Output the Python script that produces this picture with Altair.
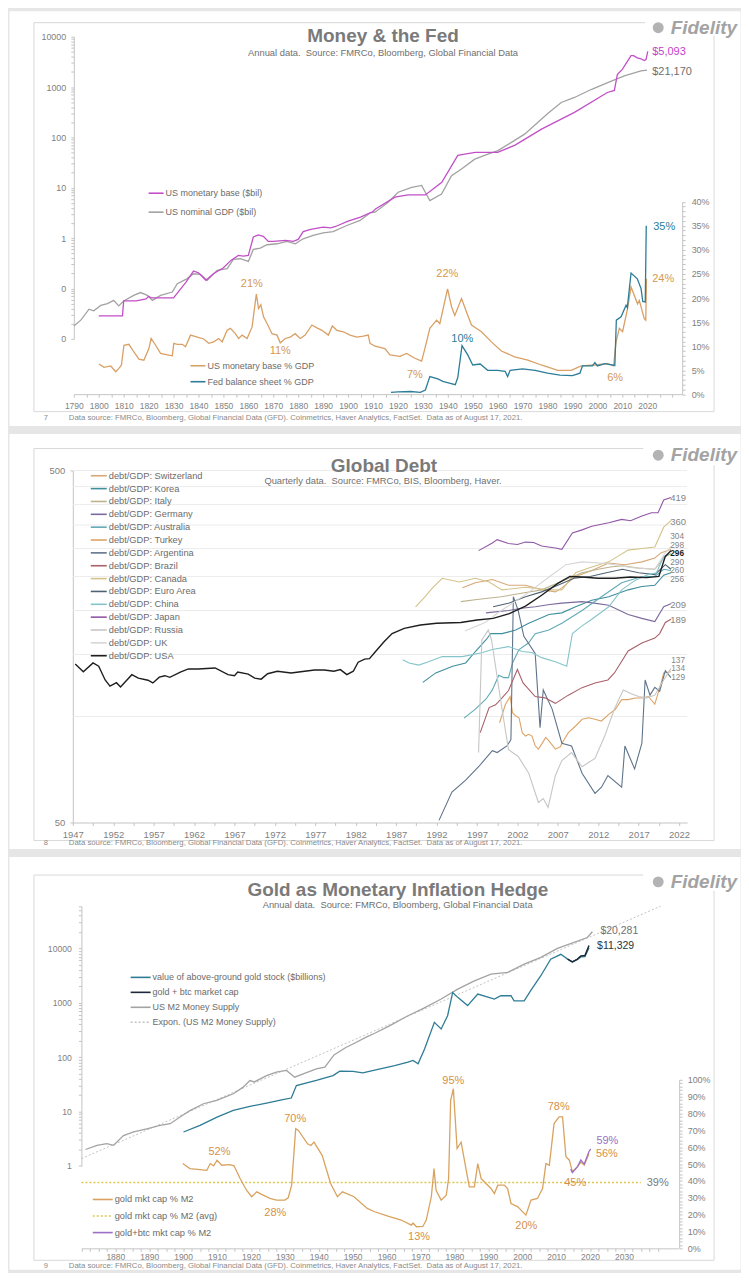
import altair as alt
import pandas as pd

FONT = "Liberation Sans"
W = 733
H1, H2, H3 = 416, 416, 414
TXT = "#7f7f7f"
AXL = "#c4c4c4"
FRM = "#d9d9d9"
ONE = pd.DataFrame({"k": [0]})

# ---------------- Panel 1 data : Money & the Fed ----------------
MB = [(1800, 0.0285), (1809.5, 0.0285), (1810, 0.0565), (1815, 0.0565), (1819, 0.062), (1820, 0.070),
      (1821, 0.065), (1825, 0.065), (1830, 0.065), (1835, 0.134), (1838, 0.222), (1840, 0.204),
      (1843, 0.145), (1846, 0.196), (1850, 0.258), (1853, 0.361), (1856, 0.454), (1858, 0.44),
      (1860, 0.454), (1862, 1.05), (1864, 1.16), (1866, 1.08), (1868, 0.86), (1870, 0.86), (1875, 0.9),
      (1878, 0.86), (1880, 0.94), (1882, 1.35), (1885, 1.49), (1890, 1.65), (1893, 1.6), (1895, 1.7),
      (1900, 2.17), (1905, 2.6), (1910, 3.37), (1911, 3.8), (1918.8, 6.5), (1924, 7.2), (1931, 7.2),
      (1937.6, 12.8), (1944, 44), (1946.8, 46.7), (1951, 50.5), (1960, 50.5), (1966.8, 69.5),
      (1977.6, 146), (1990.8, 313), (2004, 778), (2006.8, 853), (2008, 1770), (2010, 2240),
      (2013.5, 4200), (2014.5, 4200), (2016, 3800), (2017.5, 3640), (2018.8, 3350), (2019.5, 3500),
      (2020.2, 5093)]
GDP = [(1790, 0.018), (1792.8, 0.0235), (1796.1, 0.0387), (1798, 0.036), (1800.8, 0.046), (1803.5, 0.05),
       (1806, 0.058), (1808, 0.045), (1810, 0.0565), (1814, 0.073), (1816.8, 0.083), (1819.5, 0.073),
       (1821.5, 0.058), (1824.8, 0.073), (1829.5, 0.085), (1831.5, 0.124), (1835.5, 0.157), (1838, 0.196),
       (1840.8, 0.19), (1843.5, 0.145), (1847.5, 0.229), (1851.5, 0.247), (1854, 0.378), (1856.8, 0.389),
       (1860, 0.345), (1862, 0.597), (1864.8, 0.634), (1867.5, 0.738), (1871.5, 0.772), (1875.5, 0.86),
       (1878.8, 0.772), (1882, 0.97), (1886, 1.13), (1890, 1.27), (1894, 1.35), (1899.5, 1.78),
       (1904.8, 2.24), (1908.8, 3.17), (1910.8, 3.27), (1916.1, 5.16), (1920.1, 8.15), (1925.5, 10.2),
       (1929.5, 11.1), (1932.8, 5.57), (1937.5, 7.5), (1941.5, 17.4), (1945.5, 23.5), (1950.8, 37),
       (1956.1, 46.7), (1960.1, 54.5), (1966.8, 87), (1970.8, 116), (1980.1, 299), (1985.5, 493),
       (1990.8, 620), (1997.5, 891), (2004.1, 1227), (2010.8, 1660), (2017.5, 2090), (2019.9, 2170)]
MBP = [(1800.1, 6.3), (1802.1, 5.6), (1804.8, 5.9), (1806.8, 4.7), (1808.1, 5.4), (1809.1, 6.1), (1810.1, 10.2),
       (1812.1, 10.4), (1814.1, 8.8), (1816.1, 7.3), (1818.1, 7.1), (1820.1, 9.5), (1821.0, 11.6), (1822.8, 10.2),
       (1824.8, 8.5), (1827.5, 8.2), (1829.5, 8.0), (1830.1, 10.6), (1831.5, 10.4), (1833.5, 10.4), (1834.8, 9.9),
       (1836.8, 12.3), (1839.5, 11.9), (1842.1, 11.5), (1844.1, 10.6), (1846.1, 10.9), (1848.1, 11.6),
       (1849.5, 10.9), (1851.5, 13.3), (1852.8, 13.7), (1854.8, 12.6), (1856.1, 11.6), (1857.5, 12.3),
       (1859.5, 11.6), (1861.5, 14.0), (1863.2, 20.8), (1864.1, 17.8), (1865.0, 18.6), (1866.1, 16.1),
       (1867.5, 14.7), (1869.5, 12.6), (1871.5, 12.3), (1872.8, 10.7), (1874.8, 11.6), (1876.8, 11.9),
       (1878.8, 12.6), (1880.8, 11.6), (1882.8, 12.3), (1885.5, 14.4), (1887.5, 13.8), (1889.5, 13.3),
       (1892.1, 12.3), (1893.7, 14.2), (1895.5, 13.3), (1898.1, 13.0), (1900.8, 12.3), (1903.5, 11.9),
       (1906.1, 12.1), (1908.1, 12.3), (1908.8, 10.6), (1910.8, 10.0), (1914.8, 9.5), (1916.8, 8.2),
       (1920.8, 7.9), (1923.5, 8.5), (1926.8, 7.5), (1929.5, 6.9), (1930.8, 9.5), (1932.8, 13.7),
       (1935.5, 15.4), (1936.8, 14.7), (1939.9, 21.9), (1941.5, 18.2), (1942.8, 16.4), (1945.5, 19.9),
       (1947.5, 17.1), (1949.5, 14.4), (1953.5, 13.0), (1957.5, 10.9), (1961.5, 9.0), (1966.8, 7.8),
       (1972.1, 7.1), (1977.5, 6.1), (1984.1, 5.0), (1989.5, 5.0), (1993.5, 5.9), (1998.8, 6.1),
       (2004.1, 6.4), (2006.5, 5.9), (2007.5, 10.9), (2008.8, 13.7), (2010.1, 13.0), (2012.1, 17.8),
       (2013.5, 22.3), (2016.1, 18.8), (2016.8, 19.5), (2018.8, 15.7), (2019.4, 15.4), (2019.7, 24.0)]
FED = [(1917.2, 0.4), (1920, 0.5), (1925, 0.6), (1929, 0.4), (1931, 0.9), (1932.8, 3.7), (1936, 3.2),
       (1938, 2.7), (1941, 2.3), (1943, 2.0), (1944, 3.5), (1945.7, 10.1), (1948, 8.2), (1950, 6.1),
       (1953, 6.3), (1956, 5.0), (1960, 5.0), (1963, 4.8), (1964, 3.7), (1965, 5.0), (1970, 5.3),
       (1975, 5.0), (1980, 4.4), (1985, 4.0), (1990, 3.9), (1993, 4.4), (1994, 5.9), (1998, 5.9),
       (1999, 6.6), (2000, 5.9), (2003, 6.4), (2007, 6.0), (2007.6, 15.4), (2009.5, 16.1), (2011.5, 18.5),
       (2012, 18.0), (2013.5, 25.2), (2016, 24.0), (2017.5, 22.0), (2018.2, 19.3), (2019.2, 19.2),
       (2019.6, 35.0)]

# ---------------- Panel 2 data : Global Debt ----------------
DEBT_NAMES = ["Switzerland", "Korea", "Italy", "Germany", "Australia", "Turkey", "Argentina", "Brazil",
              "Canada", "Euro Area", "China", "Japan", "Russia", "UK", "USA"]
DEBT_COLORS = ["#d8a878", "#3e8e9d", "#bcb38e", "#7b6a9b", "#62a9b6", "#dda466", "#5f748a", "#a9616b",
               "#d3c38a", "#4f6272", "#86c4cb", "#9057a6", "#c6c6c6", "#d6d6d6", "#1e1e1e"]
DEBT = {
    "Switzerland": [(1995.2, 232), (1996.8, 240), (1998.9, 245), (2000.9, 236), (2003.0, 236), (2005.1, 229),
                    (2006.7, 226), (2007.5, 232), (2009.2, 250), (2011.2, 260), (2013.3, 273), (2015.3, 270),
                    (2017.4, 275), (2019.0, 282), (2019.8, 292), (2021.0, 298)],
    "Korea": [(1990.3, 125), (1991.9, 133), (1994.0, 139), (1995.6, 142), (1996.8, 153), (1998.1, 165),
              (1998.7, 172), (2000.1, 172), (2001.8, 176), (2003.4, 184), (2005.9, 195), (2007.5, 197),
              (2009.2, 205), (2011.2, 214), (2013.3, 219), (2015.7, 229), (2017.4, 234), (2019.0, 236),
              (2020.1, 252), (2021.0, 256)],
    "Italy": [(1995.0, 212), (1997.0, 215), (2000.0, 219), (2002.5, 224), (2005.0, 229), (2008.0, 245),
              (2010.0, 256), (2012.0, 262), (2013.5, 266), (2015.0, 268), (2017.0, 264), (2019.0, 262),
              (2020.3, 285), (2021.0, 290)],
    "Germany": [(1998.1, 197), (2000.9, 200), (2002.5, 203), (2004.2, 205), (2006.0, 208), (2007.5, 210),
                (2010.0, 212), (2011.5, 210), (2013.3, 207), (2015.7, 195), (2017.4, 190), (2019.0, 186),
                (2020.1, 205), (2021.0, 209)],
    "Australia": [(1995.4, 99), (1996.8, 105), (1998.1, 112), (1998.9, 119), (1999.7, 131), (2000.3, 129),
                  (2000.9, 129), (2001.4, 142), (2002.2, 155), (2003.4, 162), (2004.2, 172), (2005.9, 176),
                  (2007.5, 184), (2010.0, 200), (2012.4, 219), (2014.9, 240), (2017.4, 250), (2019.0, 250),
                  (2020.1, 262), (2021.0, 260)],
    "Turkey": [(1999.8, 96), (2000.5, 108), (2001.1, 114), (2001.4, 102.5), (2001.8, 100.3), (2002.2, 99.2),
               (2002.6, 90), (2003.0, 88), (2003.4, 89), (2003.8, 88), (2004.2, 82.6), (2004.6, 80.8),
               (2005.0, 83.5), (2005.5, 87.2), (2005.9, 85.3), (2006.7, 80.8), (2007.3, 82), (2007.7, 85.3),
               (2008.3, 90), (2009.2, 94), (2010.0, 98.2), (2010.8, 99.2), (2011.6, 98.2), (2012.4, 97.1),
               (2013.3, 101.4), (2014.1, 104.7), (2014.9, 111.7), (2015.7, 111.7), (2016.6, 112.9),
               (2017.4, 112.9), (2018.2, 114), (2019.0, 108.4), (2019.4, 116.4), (2019.8, 125), (2020.1, 133),
               (2021.0, 134)],
    "Argentina": [(1992.3, 50.7), (1993.9, 61), (1995.6, 66), (1997.2, 72), (1998.9, 80), (1999.5, 79),
                  (2000.7, 82.5), (2001.2, 86), (2001.5, 219), (2002.1, 200), (2002.8, 169), (2004.2, 151),
                  (2004.8, 93), (2005.2, 119), (2006.3, 105), (2007.5, 84), (2008.7, 82.5), (2010.0, 69),
                  (2011.6, 60.5), (2012.4, 63), (2013.2, 68), (2014.9, 63), (2015.3, 82.5), (2016.5, 71),
                  (2017.4, 84), (2017.8, 127), (2018.4, 115), (2019.0, 121), (2019.6, 118), (2020.3, 135),
                  (2021.0, 129)],
    "Brazil": [(1997.4, 90), (1998.5, 106), (1999.3, 108), (2000.1, 113), (2000.9, 118.5), (2002.0, 136),
               (2002.7, 124.6), (2004.2, 114), (2005.4, 113), (2006.7, 109), (2008.3, 115), (2010.0, 120.8),
               (2011.6, 124.6), (2013.2, 127), (2014.0, 133), (2015.7, 153.5), (2017.4, 161.7), (2019.0, 167),
               (2019.6, 172), (2020.3, 185), (2021.0, 189)],
    "Canada": [(1989.4, 205), (1990.5, 218), (1991.5, 232), (1992.7, 247), (1994.8, 241), (1996.8, 247),
               (1998.5, 241), (2000.1, 229), (2003.0, 233), (2005.9, 229), (2007.5, 229), (2009.2, 256),
               (2011.0, 265), (2013.3, 275), (2015.7, 297), (2017.4, 300), (2019.0, 303), (2020.1, 345),
               (2021.0, 360)],
    "Euro Area": [(1999.0, 205), (2001.0, 210), (2003.0, 219), (2005.0, 226), (2007.0, 236), (2009.0, 247),
                  (2011.0, 250), (2013.0, 256), (2015.0, 262), (2017.0, 256), (2019.0, 253), (2020.3, 270),
                  (2021.0, 262)],
    "China": [(1987.8, 145), (1988.6, 142), (1989.8, 140), (1991.0, 143), (1992.7, 148), (1995.2, 148),
              (1997.7, 152), (1998.9, 155), (2000.9, 158), (2002.6, 153), (2003.8, 152), (2005.0, 147),
              (2006.7, 143), (2008.1, 139), (2008.8, 172), (2010.0, 181), (2011.2, 189), (2013.3, 205),
              (2014.9, 229), (2016.6, 244), (2018.2, 253), (2019.2, 256), (2020.1, 285), (2021.0, 290)],
    "Japan": [(1997.2, 296), (1998.9, 311), (1999.5, 318), (2000.9, 310), (2002.0, 308), (2003.0, 313),
              (2004.0, 312), (2005.0, 305), (2006.7, 301), (2007.5, 298.5), (2008.8, 332), (2010.0, 339),
              (2011.2, 347), (2013.3, 355), (2014.9, 363), (2016.0, 360), (2017.4, 371), (2018.6, 379),
              (2019.4, 379), (2020.1, 412), (2021.0, 419)],
    "Russia": [(1997.2, 79), (1997.6, 165), (1998.4, 176), (1998.8, 165), (2000.1, 105), (2000.9, 80.5),
               (2002.1, 77), (2003.4, 69), (2004.6, 57), (2005.2, 58.5), (2005.8, 55.2), (2006.7, 68),
               (2007.5, 75), (2008.7, 79), (2010.0, 72), (2010.8, 74), (2011.6, 76), (2012.8, 88),
               (2014.0, 105), (2015.1, 119), (2016.1, 116), (2017.0, 114), (2018.0, 113), (2019.0, 115),
               (2020.1, 127), (2021.0, 137)],
    "UK": [(1995.5, 175), (1998.0, 185), (2000.0, 200), (2003.0, 222), (2006.0, 250), (2008.0, 270),
           (2010.0, 275), (2013.0, 272), (2016.0, 265), (2019.0, 262), (2020.2, 290), (2021.0, 304)],
    "USA": [(1947.3, 141), (1948.3, 134), (1949.5, 142), (1950.2, 139), (1951.0, 127), (1951.6, 122),
            (1952.4, 124.8), (1952.9, 121.3), (1954.3, 131.5), (1955.1, 128.6), (1956.3, 126.8), (1956.9, 124.6),
            (1957.7, 129.4), (1958.4, 130.6), (1959.0, 129.2), (1960.3, 133.7), (1961.3, 136.5), (1962.5, 136.5),
            (1964.6, 137.4), (1966.2, 131.5), (1967.0, 130.6), (1967.4, 133.7), (1968.7, 132), (1969.5, 128.6),
            (1970.3, 127.7), (1971.1, 132.3), (1972.3, 134.5), (1974.0, 132.9), (1975.2, 134), (1976.9, 135.6),
            (1978.1, 135.6), (1979.3, 134.5), (1980.1, 135.9), (1980.9, 131.5), (1981.7, 134.5), (1982.3, 142.7),
            (1983.1, 145.6), (1983.7, 146), (1984.4, 152.5), (1985.5, 163), (1986.5, 172), (1988.0, 178),
            (1990.0, 182), (1992.0, 184), (1995.0, 185), (1997.0, 188), (1999.0, 190), (2001.0, 196),
            (2003.0, 206), (2005.0, 221), (2007.0, 239), (2008.5, 250), (2010.0, 249), (2012.0, 247),
            (2014.0, 247), (2016.0, 249), (2018.0, 248), (2019.5, 250), (2020.3, 285), (2021.0, 296)],
}
GRID2 = [100, 150, 200, 250, 300, 350, 400, 450, 500]

# ---------------- Panel 3 data : Gold as Monetary Inflation Hedge ----------------
M2 = [(1871.2, 2.0), (1874.6, 2.39), (1877.5, 2.56), (1879.5, 2.39), (1882.4, 3.6), (1885.4, 4.2), (1889.3, 4.8),
      (1893.2, 5.55), (1896.2, 5.97), (1899.1, 7.9), (1902.0, 10.4), (1906.0, 13.9), (1909.9, 16.0),
      (1914.8, 21.2), (1917.7, 28.1), (1919.7, 37.1), (1921.0, 35.0), (1924.6, 45.7), (1927.5, 52.9),
      (1930.5, 56.9), (1932.9, 42.9), (1935.4, 49.3), (1939.3, 61.0), (1941.8, 65.5), (1944.5, 110),
      (1948.1, 152), (1950.1, 175), (1954.0, 233), (1956.5, 275), (1961.0, 380), (1966.3, 578), (1971.0, 800),
      (1976.1, 1176), (1981.0, 1787), (1985.9, 2540), (1990.8, 3380), (1995.7, 3630), (2000.6, 5140),
      (2005.5, 6840), (2010.4, 10000), (2015.3, 12900), (2019.2, 15900), (2020.7, 20281)]
TREND = [(1870, 1.36), (2040.8, 60000)]
GOLD = [(1900.1, 4.2), (1905.0, 5.56), (1910.0, 7.9), (1914.8, 10.5), (1919.7, 12.4), (1924.6, 14.3),
        (1929.4, 16.5), (1931.9, 17.7), (1933.4, 30.0), (1939.3, 37.3), (1944.2, 45.9), (1946.2, 55.3),
        (1950.1, 55.0), (1953.0, 51.5), (1956.5, 58.0), (1962.4, 70.0), (1966.3, 81.0), (1967.8, 87.0),
        (1969.3, 75.5), (1971.2, 142), (1974.1, 438), (1976.1, 330), (1978.0, 578), (1979.5, 1550),
        (1981.0, 1260), (1983.9, 890), (1986.9, 1450), (1991.8, 1170), (1993.7, 1350), (1996.7, 1350),
        (1997.6, 1090), (2000.6, 1090), (2002.5, 1670), (2005.5, 3150), (2008.4, 6330), (2011.4, 7800),
        (2013.4, 6370), (2014.8, 5650), (2016.3, 6300), (2017.3, 7000), (2018.5, 7100), (2019.7, 10300)]
GOLDBTC = [(2013.4, 6370), (2014.8, 5680), (2016.3, 6370), (2017.3, 7300), (2018.5, 7400), (2019.7, 11329)]
GPCT = [(1899.9, 50.3), (1902, 47.3), (1905, 46.7), (1907, 46.3), (1908, 50.3), (1909, 49), (1910, 52.3),
        (1911.4, 49.3), (1913.8, 49.7), (1915, 49), (1916.8, 41.4), (1918.7, 34.5), (1920.2, 30.6),
        (1921.7, 33.5), (1923.6, 31.6), (1925.6, 29.6), (1927.5, 28.6), (1930, 28.6), (1931, 30),
        (1932, 37.5), (1933.2, 71), (1934, 70), (1936.7, 62), (1937.7, 61), (1938.6, 63), (1941, 55.2),
        (1943.5, 38.5), (1945.5, 30.6), (1947, 33.5), (1950.4, 30.6), (1954.3, 23.7), (1956.5, 21.7),
        (1960.4, 19.1), (1964.3, 16.8), (1967.3, 13.8), (1967.8, 15), (1968.8, 12.8), (1970.7, 13),
        (1971.7, 16.8), (1973.2, 30.6), (1974, 47.3), (1974.6, 34.5), (1976.1, 28.6), (1977.6, 31.5),
        (1978.3, 41.4), (1978.9, 87.8), (1979.7, 94.7), (1980.8, 59.2), (1982, 63), (1983.5, 46.3),
        (1984.4, 36.5), (1985.9, 36.5), (1986.9, 50.3), (1987.9, 41.4), (1989.3, 38.5), (1990.8, 35.5),
        (1991.8, 32.5), (1992.8, 37.5), (1994.7, 37.5), (1995.7, 35.5), (1996.7, 26.6), (1998.7, 24.6),
        (2001.1, 19.7), (2002.6, 28.6), (2004.5, 29.6), (2006, 35.5), (2007, 50.3), (2008, 49.3),
        (2009.4, 74), (2010.9, 78), (2011.9, 78), (2012.9, 54.3), (2013.9, 52.3), (2014.8, 45.4),
        (2016.3, 48.3), (2017.3, 51.2), (2018.3, 49.3), (2019.7, 56.2)]
GBPCT = [(2014.3, 47), (2014.8, 45), (2016.3, 48.5), (2017.3, 52.5), (2018.3, 50), (2019.7, 57.5), (2020.2, 59)]
GAVG = [(1870, 39), (2035, 39)]

FOOT = ("Data source: FMRCo, Bloomberg, Global Financial Data (GFD). Coinmetrics, Haver Analytics, "
        "FactSet.\u00a0 Data as of August 17, 2021.")


# ---------------- helpers ----------------
def T(s, x, y, size=9.0, color=TXT, align="left", weight="normal", style="normal"):
    return alt.Chart(ONE).mark_text(text=s, align=align, baseline="middle", fontSize=size, font=FONT,
                                    color=color, fontWeight=weight, fontStyle=style).encode(
        x=alt.value(x), y=alt.value(y))


def HR(x1, x2, y, color=FRM, w=1.0, dash=None):
    kw = dict(color=color, strokeWidth=w)
    if dash:
        kw["strokeDash"] = dash
    return alt.Chart(ONE).mark_rule(**kw).encode(x=alt.value(x1), x2=alt.value(x2), y=alt.value(y))


def VR(x, y1, y2, color=FRM, w=1.0):
    return alt.Chart(ONE).mark_rule(color=color, strokeWidth=w).encode(
        x=alt.value(x), y=alt.value(y1), y2=alt.value(y2))


def frame(top, bottom, top_end, right_top):
    return [HR(25, top_end, top), VR(25, top, bottom), HR(25, 707, bottom), VR(707, right_top, bottom)]


def axis(**kw):
    base = dict(grid=False, title=None, domainColor=AXL, tickColor=AXL, labelColor=TXT, labelFont=FONT,
                tickSize=3, labelPadding=4, labelOverlap=False, labelFlush=False, labelFontSize=9)
    base.update(kw)
    return alt.Axis(**base)


def line(pairs, xs, xa, ys, ya, color, w=1.3, dash=None):
    kw = dict(color=color, strokeWidth=w)
    if dash:
        kw["strokeDash"] = dash
    df = pd.DataFrame(pairs, columns=["year", "v"])
    return alt.Chart(df).mark_line(**kw).encode(
        x=alt.X("year:Q", scale=xs, axis=xa),
        y=alt.Y("v:Q", scale=ys, axis=ya))


def legend(items, x1, x2, tx, y0, dy, size=9.0, color="#6b6b6b"):
    out = []
    for i, (label, col, dash) in enumerate(items):
        y = y0 + i * dy
        out.append(HR(x1, x2, y, color=col, w=1.6, dash=dash))
        out.append(T(label, tx, y, size=size, color=color))
    return out


def logo(y):
    icon = alt.Chart(ONE).mark_point(shape="circle", filled=True, color="#b3b3b3", size=120, opacity=1).encode(
        x=alt.value(651), y=alt.value(y))
    return [icon, T("Fidelity", 730, y, size=19, color="#a3a3a3", align="right", weight="bold", style="italic")]


def footer(num, y):
    return [T(num, 37, y, size=7.6, color="#8a8a8a", align="center"),
            T(FOOT, 60, y, size=7.8, color="#8a8a8a")]


def log_ticks(lo_exp, hi_exp, extra=()):
    vals = [round(k * 10 ** e, 6) for e in range(lo_exp, hi_exp) for k in range(1, 10)]
    return vals + list(extra)


TITLE_C = "#7a7a7a"
SUB_C = "#6f6f6f"

# ---------------- Panel 1 ----------------
MAG, GDPC, ORG, TEAL = "#c24fc7", "#a2a2a2", "#d9a066", "#2b7d99"
ORG_T = "#d4994f"
x1s = alt.Scale(domain=[1790, 2034], range=[65, 675], nice=False, zero=False)
x1a = axis(orient="bottom", offset=-(H1 - 384.5), values=list(range(1790, 2035, 5)), labelFontSize=8.5,
           labelExpr="(datum.value % 10 == 0 && datum.value <= 2020) ? '' + datum.value : ''")
y1s = alt.Scale(type="log", domain=[0.01, 10000], range=[329, 26], nice=False)
y1a = axis(orient="left", offset=-65, values=log_ticks(-2, 4, [10000]), labelPadding=5,
           labelExpr="datum.value < 1 ? (indexof([0.01, 0.1], datum.value) >= 0 ? '0' : '') : "
                     "(indexof([1, 10, 100, 1000, 10000], datum.value) >= 0 ? '' + datum.value : '')")
p1s = alt.Scale(domain=[0, 40], range=[384.7, 191.5], nice=False, zero=False)
p1a = axis(orient="right", offset=-(W - 675), values=list(range(0, 41)), labelPadding=6,
           labelExpr="datum.value % 5 == 0 ? datum.value + '%' : ''")

left1 = alt.layer(line(GDP, x1s, x1a, y1s, y1a, GDPC), line(MB, x1s, x1a, y1s, y1a, MAG))
right1 = alt.layer(line(MBP, x1s, x1a, p1s, p1a, ORG), line(FED, x1s, x1a, p1s, p1a, TEAL))
texts1 = [
    T("Money & the Fed", 375, 25.8, size=19, color=TITLE_C, align="center", weight="bold"),
    T("Annual data.\u00a0 Source: FMRCo, Bloomberg, Global Financial Data", 375, 42, size=9.4,
      color=SUB_C, align="center"),
    T("$5,093", 645, 41, size=11, color="#c43fc9"),
    T("$21,170", 645, 61, size=11, color="#6f6f6f"),
    T("35%", 646, 217, size=11, color=TEAL),
    T("24%", 645, 269, size=11, color=ORG_T),
    T("21%", 243.5, 273.7, size=11, color=ORG_T, align="center"),
    T("11%", 272, 341.3, size=11, color=ORG_T, align="center"),
    T("22%", 439.5, 263.7, size=11, color=ORG_T, align="center"),
    T("10%", 454.5, 328.7, size=11, color=TEAL, align="center"),
    T("7%", 407, 365.3, size=11, color=ORG_T, align="center"),
    T("6%", 607.8, 368.7, size=11, color=ORG_T, align="center"),
] + logo(17) + footer("7", 408)
leg1 = legend([("US monetary base ($bil)", MAG, None), ("US nominal GDP ($bil)", GDPC, None)],
              140, 155, 157, 183, 19) + \
       legend([("US monetary base % GDP", ORG, None), ("Fed balance sheet % GDP", TEAL, None)],
              182, 197, 199, 356, 16)
p1 = alt.layer(*frame(12, 402, 638, 25), left1, right1, *leg1, *texts1).resolve_scale(
    y="independent").properties(width=W, height=H1)

# ---------------- Panel 2 ----------------
x2s = alt.Scale(domain=[1947, 2023], range=[64, 680], nice=False, zero=False)
x2a = axis(orient="bottom", offset=-(H2 - 390), values=[1947 + 2.5 * i for i in range(31)], labelFontSize=9.5,
           labelExpr="(datum.value - 1947) % 5 == 0 ? '' + datum.value : ''")
y2s = alt.Scale(type="log", domain=[50, 500], range=[390, 37], nice=False)
y2a = axis(orient="left", offset=-64, values=[50, 500], labelFontSize=9.5, labelPadding=5,
           labelExpr="'' + datum.value")

rows = []
for name in DEBT_NAMES[:-1]:
    for yr, v in DEBT[name]:
        rows.append(("debt/GDP: " + name, yr, v))
debt_df = pd.DataFrame(rows, columns=["series", "year", "v"])
full_names = ["debt/GDP: " + n for n in DEBT_NAMES]
lines2 = alt.Chart(debt_df).mark_line(strokeWidth=1.1).encode(
    x=alt.X("year:Q", scale=x2s, axis=x2a),
    y=alt.Y("v:Q", scale=y2s, axis=y2a),
    color=alt.Color("series:N", scale=alt.Scale(domain=full_names[:-1], range=DEBT_COLORS[:-1]), legend=None))
usa2 = line(DEBT["USA"], x2s, x2a, y2s, y2a, DEBT_COLORS[-1], w=1.4)
grid2 = alt.Chart(pd.DataFrame({"g": GRID2})).mark_rule(color="#ececec", strokeWidth=1).encode(
    y=alt.Y("g:Q", scale=y2s, axis=y2a), x=alt.value(64), x2=alt.value(680))
leg2 = legend([(n, c, None) for n, c in zip(full_names, DEBT_COLORS)], 82, 98, 100, 42.3, 12.89, size=9.3)
END_C = "#858585"
texts2 = [
    T("Global Debt", 376, 32.7, size=19, color=TITLE_C, align="center", weight="bold"),
    T("Quarterly data.\u00a0 Source: FMRCo, BIS, Bloomberg, Haver.", 375, 48, size=9.4, color=SUB_C,
      align="center"),
    T("419", 663, 65, size=9.5, color=END_C),
    T("360", 663, 88.3, size=9.5, color=END_C),
    T("304", 663, 104.0, size=8.3, color=END_C),
    T("298", 663, 112.5, size=8.3, color=END_C),
    T("296", 663, 121.0, size=8.3, color="#1e1e1e", weight="bold"),
    T("290", 663, 129.5, size=8.3, color=END_C),
    T("260", 663, 138.0, size=8.3, color=END_C),
    T("256", 663, 146.5, size=8.3, color=END_C),
    T("209", 663, 171.7, size=9.5, color=END_C),
    T("189", 663, 186.7, size=9.5, color=END_C),
    T("137", 664, 228.0, size=8.3, color=END_C),
    T("134", 664, 236.5, size=8.3, color=END_C),
    T("129", 664, 245.0, size=8.3, color=END_C),
] + logo(21.7) + footer("8", 410.7)
p2 = alt.layer(*frame(15, 408, 636, 31.7), grid2, lines2, usa2, *leg2, *texts2).properties(width=W, height=H2)

# ---------------- Panel 3 ----------------
M2C, TRC, GOLDC, GBC = "#a3a3a3", "#c2c2c2", "#2e7c95", "#1d2938"
GPC, GBPC, AVGC = "#d9a35f", "#9b70c4", "#dfc64e"
ORG3 = "#d4914a"
x3s = alt.Scale(domain=[1870, 2046], range=[72.6, 671.0], nice=False, zero=False)
x3a = axis(orient="bottom", offset=-(H3 - 393), values=[1870 + 2.5 * i for i in range(69)], labelFontSize=8.5,
           labelPadding=1.5,
           labelExpr="(datum.value % 10 == 0 && datum.value >= 1880 && datum.value <= 2030) ? '' + datum.value : ''")
y3s = alt.Scale(type="log", domain=[1, 60000], range=[310.3, 49.9], nice=False)
y3a = axis(orient="left", offset=-72.6, values=log_ticks(0, 4, [10000, 20000, 30000, 40000, 50000, 60000]),
           labelFontSize=8.7, labelPadding=7,
           labelExpr="indexof([1, 10, 100, 1000, 10000], datum.value) >= 0 ? '' + datum.value : ''")
p3s = alt.Scale(domain=[0, 100], range=[393, 224], nice=False, zero=False)
p3a = axis(orient="right", offset=-(W - 672), values=list(range(0, 101, 2)), labelPadding=5,
           labelExpr="datum.value % 10 == 0 ? datum.value + '%' : ''")

left3 = alt.layer(
    line(TREND, x3s, x3a, y3s, y3a, TRC, w=1.0, dash=[2, 2]),
    line(M2, x3s, x3a, y3s, y3a, M2C),
    line(GOLD, x3s, x3a, y3s, y3a, GOLDC),
    line(GOLDBTC, x3s, x3a, y3s, y3a, GBC, w=1.5),
)
right3 = alt.layer(
    line(GAVG, x3s, x3a, p3s, p3a, AVGC, w=1.5, dash=[2, 2]),
    line(GPCT, x3s, x3a, p3s, p3a, GPC),
    line(GBPCT, x3s, x3a, p3s, p3a, GBPC),
)
leg3 = legend([("value of above-ground gold stock ($billions)", GOLDC, None), ("gold + btc market cap", GBC, None),
               ("US M2 Money Supply", M2C, None), ("Expon. (US M2 Money Supply)", TRC, [2, 2])],
              122, 142, 144, 121.3, 15, size=9) + \
       legend([("gold mkt cap % M2", GPC, None), ("gold mkt cap % M2 (avg)", AVGC, [2, 2]),
               ("gold+btc mkt cap % M2", GBPC, None)],
              84, 104, 106, 344, 16.6, size=9.3)
texts3 = [
    T("Gold as Monetary Inflation Hedge", 390, 33.7, size=19, color=TITLE_C, align="center", weight="bold"),
    T("Annual data.\u00a0 Source: FMRCo, Bloomberg, Global Financial Data", 389.7, 48.7, size=9.4, color=SUB_C,
      align="center"),
    T("$20,281", 593, 75.3, size=10.5, color="#707070"),
    T("$11,329", 589.7, 90.3, size=10.5, color="#2a3440"),
    T("52%", 211, 296.3, size=11, color=ORG3, align="center"),
    T("70%", 287, 263, size=11, color=ORG3, align="center"),
    T("28%", 267, 357.3, size=11, color=ORG3, align="center"),
    T("95%", 445.5, 225.3, size=11, color=ORG3, align="center"),
    T("13%", 411.2, 382, size=11, color=ORG3, align="center"),
    T("78%", 551.2, 251.3, size=11, color=ORG3, align="center"),
    T("20%", 518.7, 370.7, size=11, color=ORG3, align="center"),
    T("45%", 567.8, 327.3, size=11, color=ORG3, align="center"),
    T("56%", 599.5, 298.7, size=11, color=ORG3, align="center"),
    T("59%", 600, 285.7, size=11, color=GBPC, align="center"),
    T("39%", 650.5, 327.3, size=11, color="#7a7a7a", align="center"),
] + logo(25.5) + footer("9", 410.8)
p3 = alt.layer(*frame(18.7, 405, 636, 34.7), left3, right3, *leg3, *texts3).resolve_scale(
    y="independent").properties(width=W, height=H3)

chart = alt.vconcat(p1, p2, p3, spacing=6).properties(padding=0).configure(
    background="#e6e6e6").configure_view(stroke="transparent", fill="white")

chart.save("out.html", embed_options={"renderer": "svg", "actions": False})
